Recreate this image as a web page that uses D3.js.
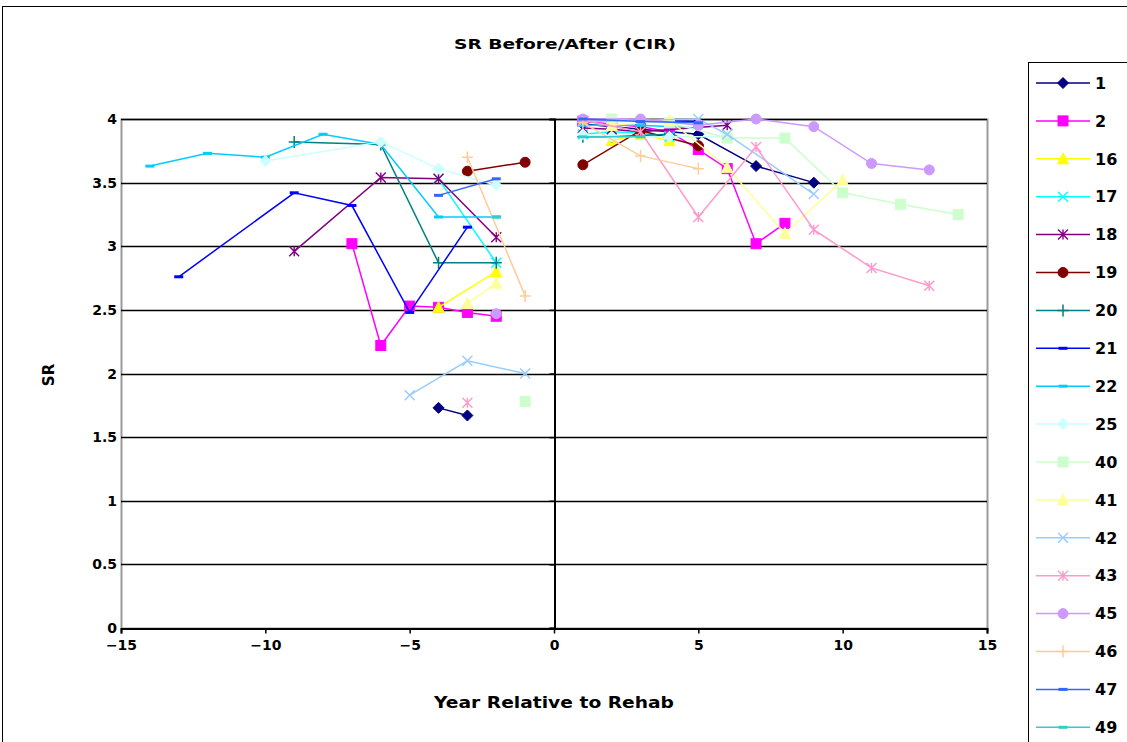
<!DOCTYPE html>
<html><head><meta charset="utf-8">
<script src="https://cdn.jsdelivr.net/npm/d3@7"></script>
<style>
html,body{margin:0;padding:0;background:#fff;}
svg{display:block;font-family:"DejaVu Sans",Arial,sans-serif;}
</style></head><body>
<svg id="c" width="1127" height="742"></svg>
<script>
// ---- data ----
const seriesNames = ["1","2","16","17","18","19","20","21","22","25","40","41","42","43","45","46","47","49"];
const xValues = {
  "1":  [-4,-3,null,1,3,5,7,9],
  "2":  [-7,-6,-5,-4,-3,-2,null,1,2,3,4,5,6,7,8],
  "16": [-4,-2,null,2,3,4],
  "17": [-4,-2,null,1,2,3,4],
  "18": [-9,-6,-4,-2,null,1,2,3,6],
  "19": [-3,-1,null,1,3,5],
  "20": [-9,-6,-4,-2,null,1,2,4],
  "21": [-13,-9,-7,-5,-3,null,1,3,5],
  "22": [-14,-12,-10,-8,-6,-4,-2,null,1,3,5],
  "25": [-10,-6,-4,-2,null,1,2,4,6],
  "40": [-1,null,2,4,6,8,10,12,14],
  "41": [-3,-2,null,2,4,6,8,10],
  "42": [-5,-3,-1,null,1,5,6,9],
  "43": [-3,null,1,3,5,7,9,11,13],
  "45": [-2,null,1,3,5,7,9,11,13],
  "46": [-3,-1,null,1,3,5],
  "47": [-4,-2,null,1,3,5],
  "49": [-2,null,1,3]
};
const yValues = {
  "1":  [1.73,1.67,null,3.96,3.92,3.88,3.63,3.5],
  "2":  [3.02,2.22,2.53,2.52,2.48,2.45,null,3.98,3.96,3.94,3.9,3.76,3.61,3.02,3.18],
  "16": [2.52,2.8,null,3.83,3.88,3.83],
  "17": [3.53,2.87,null,3.88,3.9,3.89,3.86],
  "18": [2.96,3.54,3.53,3.07,null,3.93,3.92,3.9,3.95],
  "19": [3.59,3.66,null,3.64,3.91,3.79],
  "20": [3.82,3.8,2.87,2.87,null,3.86,3.86,3.88],
  "21": [2.76,3.42,3.32,2.48,3.15,null,4.0,3.99,3.98],
  "22": [3.63,3.73,3.7,3.88,3.8,3.23,3.23,null,3.95,3.95,3.93],
  "25": [3.67,3.82,3.61,3.48,null,3.88,3.86,3.86,3.86],
  "40": [1.78,null,4.0,3.97,3.85,3.85,3.42,3.33,3.25],
  "41": [2.55,2.71,null,3.95,3.99,3.62,3.1,3.52],
  "42": [1.83,2.1,2.0,null,3.98,4.0,3.88,3.41],
  "43": [1.77,null,3.99,3.9,3.23,3.78,3.13,2.83,2.69],
  "45": [2.47,null,4.0,4.0,3.95,4.0,3.94,3.65,3.6],
  "46": [3.7,2.61,null,3.97,3.71,3.61],
  "47": [3.4,3.53,null,4.0,3.98,3.97],
  "49": [3.23,null,3.86,3.86]
};
const xTicks = [-15,-10,-5,0,5,10,15];
const yTicks = [0,0.5,1,1.5,2,2.5,3,3.5,4];
const titleText = "SR Before/After (CIR)";
const xLabel = "Year Relative to Rehab";
const yLabel = "SR";

// ---- styles ----
const colors = {"1":"#000080","2":"#FF00FF","16":"#FFFF00","17":"#00FFFF","18":"#800080","19":"#800000",
  "20":"#008080","21":"#0000FF","22":"#00CCFF","25":"#CCFFFF","40":"#CCFFCC","41":"#FFFF99",
  "42":"#99CCFF","43":"#FF99CC","45":"#CC99FF","46":"#FFCC99","47":"#3366FF","49":"#33CCCC"};
const shapes = {"1":"diamond","2":"square","16":"triangle","17":"x","18":"star","19":"circle","20":"plus",
  "21":"dash","22":"dash","25":"diamond","40":"square","41":"triangle","42":"x","43":"star","45":"circle",
  "46":"plus","47":"dash","49":"dash"};

const svg = d3.select("#c");
const L = 121, R = 987, T = 119, B = 628;
const x = d3.scaleLinear().domain([-15,15]).range([L,R]);
const y = d3.scaleLinear().domain([0,4]).range([B,T]);
const FONT = "DejaVu Sans, Arial, sans-serif";

// outer chart border
svg.append("rect").attr("x",2.5).attr("y",6.5).attr("width",1140).attr("height",760)
  .attr("fill","none").attr("stroke","#000").attr("stroke-width",1);

// title
svg.append("text").attr("x",565).attr("y",49).attr("text-anchor","middle")
  .attr("font-size",14).attr("font-weight","bold").attr("textLength",222).attr("lengthAdjust","spacingAndGlyphs")
  .text(titleText);

// plot area border
svg.append("rect").attr("x",L+0.5).attr("y",T+0.5).attr("width",R-L).attr("height",B-T)
  .attr("fill","none").attr("stroke","#9a9a9a").attr("stroke-width",2);

// gridlines
svg.append("g").selectAll("line").data(yTicks.filter(d=>d>0)).join("line")
  .attr("x1",L).attr("x2",R).attr("y1",d=>Math.round(y(d))+0.5).attr("y2",d=>Math.round(y(d))+0.5)
  .attr("stroke","#000").attr("stroke-width",1.5);

// x axis at y=0
const xAxis = d3.axisBottom(x).tickValues(xTicks).tickSize(5).tickFormat(d3.format("d"));
const gx = svg.append("g").attr("transform",`translate(0,${B+0.5})`).call(xAxis);
gx.select(".domain").attr("stroke","#000").attr("stroke-width",2);
gx.selectAll(".tick line").attr("stroke","#000").attr("stroke-width",1.5);
gx.selectAll(".tick text").attr("font-size",14).attr("font-weight","bold")
  .attr("font-family",FONT).attr("fill","#000").attr("dy","0.95em");

// y axis at x=0 (labels at left of plot)
const gy = svg.append("g").attr("transform",`translate(${x(0)+0.5},0)`)
  .call(d3.axisLeft(y).tickValues(yTicks).tickSize(5).tickFormat(d=>d3.format("")(d)));
gy.select(".domain").attr("stroke","#000").attr("stroke-width",2);
gy.selectAll(".tick line").attr("stroke","#000").attr("stroke-width",1.5);
gy.selectAll(".tick text").remove();
svg.append("g").selectAll("text").data(yTicks).join("text")
  .attr("x",L-4).attr("y",d=>y(d)).attr("dy","0.36em").attr("text-anchor","end")
  .attr("font-size",14).attr("font-weight","bold").text(d=>d3.format("")(d));

// axis titles
svg.append("text").attr("x",x(0)).attr("y",708).attr("text-anchor","middle")
  .attr("font-size",15).attr("font-weight","bold").attr("textLength",240).attr("lengthAdjust","spacingAndGlyphs")
  .text(xLabel);
svg.append("text").attr("transform","translate(54,375) rotate(-90)").attr("text-anchor","middle")
  .attr("font-size",15).attr("font-weight","bold").text(yLabel);

// marker drawing
function drawMarker(g, shape, color, cx, cy){
  const s = 5;
  if (shape==="diamond") g.append("path").attr("d",`M${cx},${cy-s-0.5}L${cx+s+0.5},${cy}L${cx},${cy+s+0.5}L${cx-s-0.5},${cy}Z`).attr("fill",color).attr("stroke",color);
  else if (shape==="square") g.append("rect").attr("x",cx-s).attr("y",cy-s).attr("width",2*s).attr("height",2*s).attr("fill",color).attr("stroke",color);
  else if (shape==="triangle") g.append("path").attr("d",`M${cx},${cy-s-1}L${cx+s+0.5},${cy+s}L${cx-s-0.5},${cy+s}Z`).attr("fill",color).attr("stroke",color);
  else if (shape==="circle") g.append("circle").attr("cx",cx).attr("cy",cy).attr("r",s).attr("fill",color).attr("stroke",color);
  else if (shape==="x" || shape==="star"){
    g.append("path").attr("d",`M${cx-s},${cy-s}L${cx+s},${cy+s}M${cx-s},${cy+s}L${cx+s},${cy-s}` + (shape==="star"?`M${cx},${cy-s}L${cx},${cy+s}`:""))
     .attr("stroke",color).attr("stroke-width",1.4).attr("fill","none");
  }
  else if (shape==="plus") g.append("path").attr("d",`M${cx-s-0.5},${cy}L${cx+s+0.5},${cy}M${cx},${cy-s-1}L${cx},${cy+s+1}`).attr("stroke",color).attr("stroke-width",1.5);
  else if (shape==="dash") g.append("rect").attr("x",cx-4.5).attr("y",cy-1.5).attr("width",9).attr("height",3).attr("fill",color);
}

// series
const plot = svg.append("g");
const line = d3.line().defined(d=>d[0]!==null && d[1]!==null).x(d=>x(d[0])).y(d=>y(d[1]));
seriesNames.forEach(name=>{
  const pts = xValues[name].map((xv,i)=>[xv, yValues[name][i]]);
  const g = plot.append("g");
  g.append("path").datum(pts).attr("d",line).attr("fill","none")
    .attr("stroke",colors[name]).attr("stroke-width",1.5);
  pts.filter(d=>d[0]!==null).forEach(d=>drawMarker(g, shapes[name], colors[name], x(d[0]), y(d[1])));
});

// legend
const lgX = 1028, lgY = 62, lgStep = 37.9;
svg.append("rect").attr("x",lgX+0.5).attr("y",lgY+0.5).attr("width",120).attr("height",720)
  .attr("fill","#fff").attr("stroke","#000").attr("stroke-width",1);
seriesNames.forEach((name,i)=>{
  const cy = lgY + 21 + i*lgStep;
  const g = svg.append("g");
  g.append("line").attr("x1",lgX+8).attr("x2",lgX+62).attr("y1",cy).attr("y2",cy)
    .attr("stroke",colors[name]).attr("stroke-width",1.5);
  drawMarker(g, shapes[name], colors[name], lgX+35, cy);
  g.append("text").attr("x",lgX+67).attr("y",cy).attr("dy","0.36em")
    .attr("font-size",16).attr("font-weight","bold").text(name);
});
</script>
</body></html>
